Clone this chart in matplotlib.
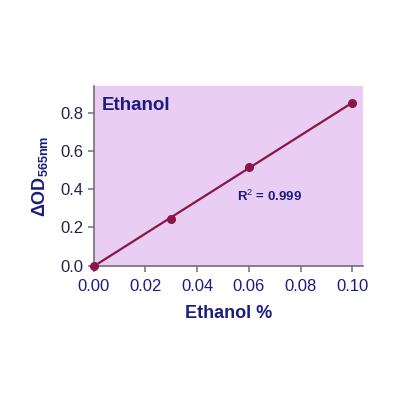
import numpy as np
import matplotlib
matplotlib.use("Agg")
import matplotlib.pyplot as plt

plt.rcParams['font.family'] = ['Liberation Sans', 'DejaVu Sans']
plt.rcParams['mathtext.fontset'] = 'custom'
plt.rcParams['mathtext.rm'] = 'Liberation Sans'
plt.rcParams['mathtext.bf'] = 'Liberation Sans:bold'

# 数据
ethanol_pct = [0.0, 0.03, 0.06, 0.10]
delta_od = [0.0, 0.245, 0.515, 0.853]
x_ticks = [0.00, 0.02, 0.04, 0.06, 0.08, 0.10]
y_ticks = [0.0, 0.2, 0.4, 0.6, 0.8]
r2_text = r'R$^{2}$ = 0.999'

navy = '#1c1c80'
maroon = '#8a1648'
spine_gray = '#707070'

fig = plt.figure(figsize=(4, 4), dpi=100)
ax = fig.add_axes([0.234, 0.334, 0.673, 0.451])
ax.set_facecolor('#e9cdf3')

# 线性拟合
slope, intercept = np.polyfit(ethanol_pct, delta_od, 1)
xs = np.array([ethanol_pct[0], ethanol_pct[-1]])
ax.plot(xs, slope * xs + intercept, color=maroon, lw=1.6, zorder=2)
ax.plot(ethanol_pct, delta_od, 'o', color=maroon, ms=5.5, zorder=3, clip_on=False)

ax.set_xlim(0, 0.104)
ax.set_ylim(-0.004, 0.94)
ax.set_xticks(x_ticks)
ax.set_xticklabels([f'{t:.2f}' for t in x_ticks])
ax.set_yticks(y_ticks)
ax.set_yticklabels([f'{t:.1f}' for t in y_ticks])

for s in ['top', 'right']:
    ax.spines[s].set_visible(False)
for s in ['left', 'bottom']:
    ax.spines[s].set_color(spine_gray)
    ax.spines[s].set_linewidth(1.2)

ax.tick_params(axis='both', colors=spine_gray, length=4, width=1.1, labelsize=12)
ax.tick_params(axis='x', pad=5)
for lab in ax.get_xticklabels():
    lab.set_color(navy)
for lab in ax.get_yticklabels():
    lab.set_color('#22224a')

ax.set_xlabel('Ethanol %', fontsize=13, fontweight='bold', color=navy, labelpad=8)
ax.set_ylabel(r'$\mathbf{\Delta OD_{565nm}}$', fontsize=13, color=navy, labelpad=7)

ax.text(0.003, 0.84, 'Ethanol', fontsize=13.5, fontweight='bold', color=navy,
        va='center', ha='left')
ax.text(0.0555, 0.362, r2_text, fontsize=9.5, fontweight='bold', color=navy,
        va='center', ha='left')

fig.savefig('out.png', dpi=100)
